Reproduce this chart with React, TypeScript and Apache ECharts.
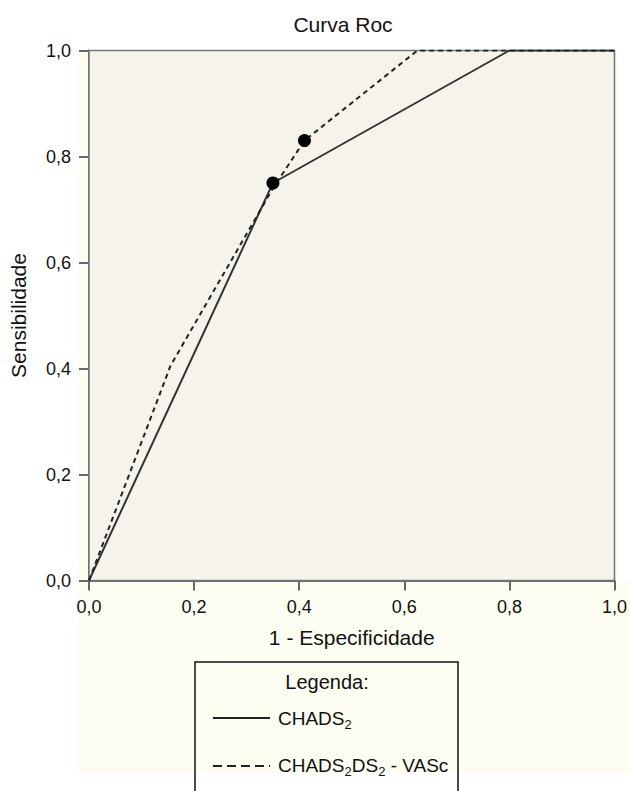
import React, { useEffect, useRef } from "react";
import * as echarts from "echarts";

// ROC curve data (1 - specificity, sensitivity)
const chadsX = [0, 0.35, 0.8, 1.0];
const chadsY = [0, 0.75, 1.0, 1.0];
const vascX = [0, 0.155, 0.35, 0.41, 0.625, 1.0];
const vascY = [0, 0.405, 0.74, 0.83, 1.0, 1.0];
// optimal cut-off points
const cutX = [0.35, 0.41];
const cutY = [0.75, 0.83];
const xTicks = [0, 0.2, 0.4, 0.6, 0.8, 1.0];

const FONT = "'Liberation Sans', Arial, Helvetica, sans-serif";
const fmt = (v: number) => v.toFixed(1).replace(".", ",");

export default function App() {
  const ref = useRef<HTMLDivElement>(null);
  useEffect(() => {
    document.body.style.margin = "0";
    if (!ref.current) return;
    const chart = echarts.init(ref.current, undefined, { renderer: "svg" });
    const pairs = (xs: number[], ys: number[]) => xs.map((x, i) => [x, ys[i]]);
    const richStyles = {
      m: { fontSize: 19, fontFamily: FONT, fill: "#111111", lineHeight: 26 },
      s: { fontSize: 13, fontFamily: FONT, fill: "#111111", lineHeight: 13, verticalAlign: "bottom" },
    };
    chart.setOption({
      animation: false,
      backgroundColor: "#ffffff",
      textStyle: { fontFamily: FONT },
      grid: {
        left: 89,
        top: 50.5,
        width: 528,
        height: 530,
        show: true,
        backgroundColor: "#f5f3ec",
        borderColor: "#777777",
        borderWidth: 1.5,
        z: 2,
      },
      xAxis: {
        type: "value",
        min: 0,
        max: 1,
        interval: 0.2,
        name: "1 - Especificidade",
        nameLocation: "middle",
        nameGap: 46,
        nameTextStyle: { fontSize: 21, color: "#111", fontFamily: FONT },
        axisLine: { show: true, lineStyle: { color: "#666", width: 2 } },
        axisTick: { show: true, length: 10, lineStyle: { color: "#666", width: 2 } },
        axisLabel: {
          margin: 17,
          fontSize: 18,
          color: "#111",
          fontFamily: FONT,
          formatter: (v: number) => fmt(v),
          customValues: xTicks,
        },
        splitLine: { show: false },
      },
      yAxis: {
        type: "value",
        min: 0,
        max: 1,
        interval: 0.2,
        name: "Sensibilidade",
        nameLocation: "middle",
        nameGap: 60,
        nameTextStyle: { fontSize: 21, color: "#111", fontFamily: FONT },
        axisLine: { show: true, lineStyle: { color: "#666", width: 2 } },
        axisTick: { show: true, length: 10, lineStyle: { color: "#666", width: 2 } },
        axisLabel: {
          margin: 18,
          fontSize: 18,
          color: "#111",
          fontFamily: FONT,
          formatter: (v: number) => fmt(v),
        },
        splitLine: { show: false },
      },
      graphic: [
        {
          type: "rect",
          z: -10,
          silent: true,
          shape: { x: 78, y: 50, width: 552, height: 723 },
          style: { fill: "#fdfdf2" },
        },
        {
          type: "rect",
          z: -9,
          silent: true,
          shape: { x: 618, y: 40, width: 12, height: 540 },
          style: { fill: "#ffffff" },
        },
        {
          type: "text",
          x: 343,
          y: 24,
          style: {
            text: "Curva Roc",
            fontSize: 21,
            fontFamily: FONT,
            fill: "#111",
            textAlign: "center",
            textVerticalAlign: "middle",
          },
        },
        {
          type: "rect",
          z: 20,
          shape: { x: 195, y: 662, width: 263, height: 160 },
          style: { fill: "none", stroke: "#111", lineWidth: 1.5 },
        },
        {
          type: "text",
          z: 20,
          x: 327,
          y: 682,
          style: {
            text: "Legenda:",
            fontSize: 20,
            fontFamily: FONT,
            fill: "#111",
            textAlign: "center",
            textVerticalAlign: "middle",
          },
        },
        {
          type: "line",
          z: 20,
          shape: { x1: 213, y1: 718, x2: 270, y2: 718 },
          style: { stroke: "#222", lineWidth: 2 },
        },
        {
          type: "text",
          z: 20,
          x: 278,
          y: 718,
          style: {
            text: "{m|CHADS}{s|2}",
            fill: "#111111",
            textVerticalAlign: "middle",
            rich: richStyles,
          },
        },
        {
          type: "line",
          z: 20,
          shape: { x1: 213, y1: 766, x2: 270, y2: 766 },
          style: { stroke: "#222", lineWidth: 2, lineDash: [9, 5] },
        },
        {
          type: "text",
          z: 20,
          x: 278,
          y: 765,
          style: {
            text: "{m|CHADS}{s|2}{m|DS}{s|2}{m| - VASc}",
            fill: "#111111",
            textVerticalAlign: "middle",
            rich: richStyles,
          },
        },
      ],
      series: [
        {
          name: "CHADS2",
          type: "line",
          data: pairs(chadsX, chadsY),
          showSymbol: false,
          z: 5,
          lineStyle: { color: "#333", width: 2, type: "solid" },
        },
        {
          name: "CHADS2DS2 - VASc",
          type: "line",
          data: pairs(vascX, vascY),
          showSymbol: false,
          z: 5,
          lineStyle: { color: "#222", width: 2, type: [5, 4] },
        },
        {
          name: "Ponto de corte",
          type: "scatter",
          data: pairs(cutX, cutY),
          symbol: "circle",
          symbolSize: 13,
          z: 6,
          itemStyle: { color: "#000000", opacity: 1 },
        },
      ],
    });
    return () => chart.dispose();
  }, []);
  return <div ref={ref} style={{ width: 630, height: 791 }} />;
}
